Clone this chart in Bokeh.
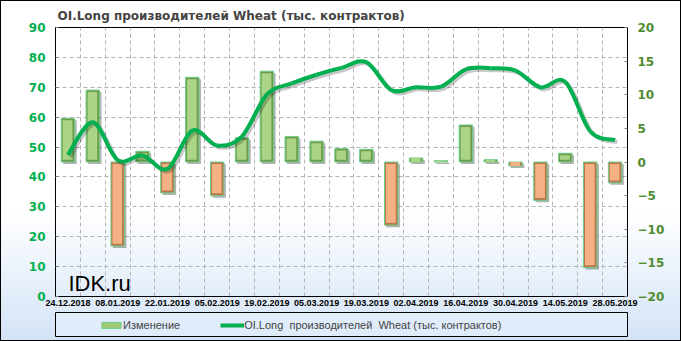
from bokeh.plotting import figure
from bokeh.layouts import column
from bokeh.models import (LinearAxis, Range1d, FixedTicker, Legend, LegendItem,
                          Label, ColumnDataSource)
from bokeh.embed import file_html
from bokeh.resources import INLINE

dates = ["24.12.2018", "31.12.2018", "08.01.2019", "15.01.2019", "22.01.2019",
         "29.01.2019", "05.02.2019", "12.02.2019", "19.02.2019", "26.02.2019",
         "05.03.2019", "12.03.2019", "19.03.2019", "26.03.2019", "02.04.2019",
         "09.04.2019", "16.04.2019", "23.04.2019", "30.04.2019", "07.05.2019",
         "14.05.2019", "21.05.2019", "28.05.2019"]
oi_long = [47.4, 58.3, 45.6, 47.2, 42.7, 55.5, 50.5, 53.6, 67.6, 71.3, 74.2, 76.5,
           78.4, 69.1, 70.0, 70.2, 76.0, 76.4, 75.6, 70.0, 71.8, 55.3, 52.3]
change = [6.5, 10.7, -12.5, 1.6, -4.6, 12.6, -5.0, 3.6, 13.5, 3.8, 3.1, 2.0,
          1.9, -9.4, 0.6, 0.2, 5.5, 0.35, -0.6, -5.7, 1.3, -15.7, -3.1]
left_ticks = [0, 10, 20, 30, 40, 50, 60, 70, 80, 90]
right_ticks = [-20, -15, -10, -5, 0, 5, 10, 15, 20]

title_text = "OI.Long  производителей  Wheat (тыс. контрактов)"
bar_label = "Изменение"

n = len(dates)
xc = [i + 0.5 for i in range(n)]

p = figure(width=679, height=310, x_range=Range1d(0, n), y_range=Range1d(0, 90),
           output_backend="svg", toolbar_location=None,
           min_border_left=54, min_border_right=51, min_border_top=26, min_border_bottom=15,
           border_fill_color=None, background_fill_color=None)
p.outline_line_color = "#000000"
p.outline_line_width = 1

p.title.text = title_text
p.title.text_font = "DejaVu Sans"
p.title.text_font_size = "12px"
p.title.text_font_style = "bold"
p.title.align = "left"
p.title.offset = 2

p.extra_y_ranges = {"chg": Range1d(-20, 20)}

# grids
p.xgrid.ticker = FixedTicker(ticks=list(range(1, n)))
p.ygrid.ticker = FixedTicker(ticks=left_ticks[1:-1])
for g in (p.xgrid, p.ygrid):
    g.grid_line_color = "#b4b4b4"
    g.grid_line_dash = "4 3"
    g.grid_line_width = 1

# left axis
la = p.yaxis[0]
la.ticker = FixedTicker(ticks=left_ticks)
la.major_tick_in = 3
la.major_tick_out = 0
la.minor_tick_line_color = None
la.axis_line_color = "#000000"
la.major_tick_line_color = "#808080"
la.major_label_text_color = "#00b050"
la.major_label_text_font = "DejaVu Sans"
la.major_label_text_font_size = "12px"
la.major_label_text_font_style = "bold"
la.major_label_standoff = 10

# right axis
ra = LinearAxis(y_range_name="chg")
ra.ticker = FixedTicker(ticks=right_ticks)
ra.major_tick_in = 3
ra.major_tick_out = 0
ra.minor_tick_line_color = None
ra.axis_line_color = "#000000"
ra.major_tick_line_color = "#808080"
ra.major_label_text_color = "#4f8c2f"
ra.major_label_text_font = "DejaVu Sans"
ra.major_label_text_font_size = "12px"
ra.major_label_text_font_style = "bold"
ra.major_label_standoff = 10
p.add_layout(ra, "right")

# bottom axis
xa = p.xaxis[0]
xa.ticker = FixedTicker(ticks=xc[::2])
xa.major_label_overrides = {xc[i]: dates[i] for i in range(0, n, 2)}
xa.major_tick_in = 0
xa.major_tick_out = 0
xa.minor_tick_line_color = None
xa.axis_line_color = "#000000"
xa.major_label_text_font = "Liberation Sans"
xa.major_label_text_font_size = "9px"
xa.major_label_text_font_style = "bold"
xa.major_label_text_color = "#000000"
xa.major_label_standoff = 3

# bars (on change axis)
hw = 0.27
dx_sh = 0.08
dy_sh = 0.3
tops = [max(c, 0) for c in change]
bots = [min(c, 0) for c in change]
pos = [c >= 0 for c in change]
outer_col = ["#6f9a4c" if s else "#b8774c" for s in pos]
inner_col = ["#abd486" if s else "#f4b183" for s in pos]

src = ColumnDataSource(dict(
    l=[x - hw for x in xc], r=[x + hw for x in xc], t=tops, b=bots,
    sl=[x - hw + dx_sh for x in xc], sr=[x + hw + dx_sh for x in xc],
    st=[t - dy_sh for t in tops], sb=[b - dy_sh for b in bots],
    il=[x - hw + 0.06 for x in xc], ir=[x + hw - 0.09 for x in xc],
    it=[t - 0.3 if (t - b) > 0.8 else t for t, b in zip(tops, bots)],
    ib=[b + 0.35 if (t - b) > 0.8 else b for t, b in zip(tops, bots)],
    oc=outer_col, ic=inner_col))

p.quad(left="sl", right="sr", top="st", bottom="sb", source=src, y_range_name="chg",
       fill_color="#000000", fill_alpha=0.3, line_color=None)
p.quad(left="l", right="r", top="t", bottom="b", source=src, y_range_name="chg",
       fill_color="oc", line_color="#6fd08a", line_width=1)
p.quad(left="il", right="ir", top="it", bottom="ib", source=src, y_range_name="chg",
       fill_color="ic", line_color=None)

# smooth line via bezier segments
def ctrl(vals):
    x0, y0, x1, y1, cx0, cy0, cx1, cy1 = [], [], [], [], [], [], [], []
    m = len(vals)
    for i in range(m - 1):
        pm = i - 1 if i > 0 else 0
        pp = i + 2 if i + 2 < m else m - 1
        x0.append(xc[i]); y0.append(vals[i])
        x1.append(xc[i + 1]); y1.append(vals[i + 1])
        cx0.append(xc[i] + (xc[i + 1] - xc[pm]) / 6.0)
        cy0.append(vals[i] + (vals[i + 1] - vals[pm]) / 6.0)
        cx1.append(xc[i + 1] - (xc[pp] - xc[i]) / 6.0)
        cy1.append(vals[i + 1] - (vals[pp] - vals[i]) / 6.0)
    return x0, y0, x1, y1, cx0, cy0, cx1, cy1

x0, y0, x1, y1, cx0, cy0, cx1, cy1 = ctrl(oi_long)
sh = 0.09
shy = 0.7
p.bezier(x0=[v + sh for v in x0], y0=[v - shy for v in y0], x1=[v + sh for v in x1],
         y1=[v - shy for v in y1], cx0=[v + sh for v in cx0], cy0=[v - shy for v in cy0],
         cx1=[v + sh for v in cx1], cy1=[v - shy for v in cy1],
         line_color="#000000", line_alpha=0.22, line_width=4)
p.bezier(x0=x0, y0=y0, x1=x1, y1=y1, cx0=cx0, cy0=cy0, cx1=cx1, cy1=cy1,
         line_color="#00b050", line_width=4)

# watermark
p.add_layout(Label(x=0.52, y=4.3, text="IDK.ru", text_font="Liberation Sans",
                   text_font_size="22px", text_color="#000000",
                   text_baseline="alphabetic"))

# legend strip
lf = figure(width=679, height=29, x_range=Range1d(0, 1), y_range=Range1d(0, 1),
            output_backend="svg", toolbar_location=None,
            x_axis_location=None, y_axis_location=None,
            min_border_left=53, min_border_right=53, min_border_top=1, min_border_bottom=4,
            border_fill_color=None, background_fill_color="#e6f0fb",
            background_fill_alpha=0.6)
lf.outline_line_color = "#000000"
lf.outline_line_width = 1
lf.xgrid.visible = False
lf.ygrid.visible = False
# swatch-only renderers, placed outside the visible range
leg_bar = lf.quad(left=[5], right=[6], top=[5], bottom=[4], fill_color="#9cc978",
                  line_color="#6fd08a", line_width=1)
leg_line = lf.line(x=[5, 6], y=[5, 5], line_color="#00b050", line_width=4)
legend = Legend(items=[LegendItem(label=bar_label, renderers=[leg_bar]),
                       LegendItem(label=title_text, renderers=[leg_line])],
                orientation="horizontal", location=(44, 5),
                background_fill_alpha=0, border_line_color=None,
                label_text_font="Liberation Sans", label_text_font_size="11px",
                glyph_width=24, glyph_height=8, label_standoff=0, spacing=40,
                padding=0, margin=0)
lf.add_layout(legend)

layout = column(p, lf, spacing=0,
                styles={"background": "linear-gradient(to bottom, #ffffff 0%, #ffffff 62%, #d3e3f6 100%)",
                        "border": "1px solid #000000"})

open("out.html", "w").write(file_html(layout, INLINE))
